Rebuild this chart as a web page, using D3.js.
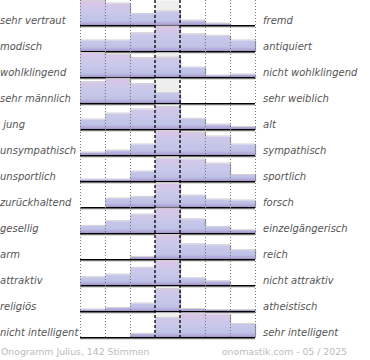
<!DOCTYPE html>
<html><head><meta charset="utf-8">
<script src="https://cdn.jsdelivr.net/npm/d3@7"></script>
<style>html,body{margin:0;padding:0;background:#fff;}svg{display:block;}</style>
</head><body>
<script>
const leftLabels = ["sehr vertraut","modisch","wohlklingend","sehr männlich"," jung","unsympathisch","unsportlich","zurückhaltend","gesellig","arm","attraktiv","religiös","nicht intelligent"];
const rightLabels = ["fremd","antiquiert","nicht wohlklingend","sehr weiblich","alt","sympathisch","sportlich","forsch","einzelgängerisch","reich","nicht attraktiv","atheistisch","sehr intelligent"];
const steps = [1,2,3,4,5,6,7];
const values = [
  [24.5,22,11.5,14,5,2,0],
  [11,11,18.3,25,17.3,15.7,11],
  [24.4,22.7,19.4,20,10,2,3],
  [21.4,24.7,19.4,10.4,0,0,0],
  [10,16,20,22.5,10.7,5,2.5],
  [3,5,11,24.5,22.5,19,11],
  [2,2,10,23,22,18,6.5],
  [0,9,10.6,24,12,8,7],
  [7.6,12.3,19,25,14.3,6.6,3.3],
  [0,0,2.6,24.3,15.3,14.3,9.3],
  [8.3,11,17.7,24.3,7.3,4.3,0],
  [2,3.5,8,22.5,2.5,1.5,1.5],
  [0,0,3.6,19.6,24,23,13.6]
];
const footerLeft = "Onogramm Julius, 142 Stimmen";
const footerRight = "onomastik.com - 05 / 2025";

const W = 370, H = 360;
const svg = d3.select("body").append("svg").attr("width", W).attr("height", H);
const rowH = 25.5;
const x = d3.scaleBand().domain(steps).range([80, 255]).padding(0);
const yRow = d3.scaleBand().domain(d3.range(leftLabels.length)).range([0, 338]).padding(0);
const h = d3.scaleLinear().domain([0, 25]).range([0, 25]);

const defs = svg.append("defs");
const grad = defs.append("linearGradient").attr("id","barGrad")
  .attr("gradientUnits","userSpaceOnUse").attr("x1",0).attr("x2",0).attr("y1",0).attr("y2",rowH);
[[0,"#ddc5e6"],[0.45,"#c9c9ea"],[0.82,"#bfc2e7"],[0.92,"#b1a8d8"],[1,"#9d90c4"]].forEach(s=>
  grad.append("stop").attr("offset",s[0]).attr("stop-color",s[1]));

const rows = svg.append("g").selectAll("g").data(values).join("g")
  .attr("transform",(d,i)=>`translate(0,${yRow(i)})`);
rows.append("rect").attr("x",x(4)).attr("width",x.bandwidth()).attr("y",0.5).attr("height",rowH-0.5).attr("fill","#eeeeee");

const grid = svg.append("g");
[1,2,3,6,7].forEach(s=>{
  grid.append("line").attr("x1",x(s)+0.5).attr("x2",x(s)+0.5).attr("y1",0).attr("y2",338)
    .attr("stroke","#777").attr("stroke-width",1).attr("stroke-dasharray","1,2");
});
grid.append("line").attr("x1",255.5).attr("x2",255.5).attr("y1",0).attr("y2",338)
  .attr("stroke","#777").attr("stroke-width",1).attr("stroke-dasharray","1,2");

rows.each(function(vals){
  const g = d3.select(this);
  const bars = g.selectAll("g.bar").data(vals.map((v,j)=>({v, s:steps[j]}))).join("g").attr("class","bar");
  const nz = bars.filter(d=>d.v>0);
  nz.append("rect")
    .attr("x",d=>x(d.s)).attr("width",x.bandwidth())
    .attr("y",d=>rowH-h(d.v)-1).attr("height",1)
    .attr("fill","#d2d2d2");
  nz.append("rect")
    .attr("x",d=>x(d.s)).attr("width",x.bandwidth())
    .attr("y",d=>rowH-h(d.v)).attr("height",d=>h(d.v))
    .attr("fill","url(#barGrad)");
  nz.append("line")
    .attr("x1",d=>x(d.s)+x.bandwidth()+0.5).attr("x2",d=>x(d.s)+x.bandwidth()+0.5)
    .attr("y1",d=>rowH-h(d.v)).attr("y2",rowH)
    .attr("stroke","#9a9a9a").attr("stroke-width",1.2);
  g.append("line").attr("x1",80).attr("x2",255).attr("y1",rowH+1.5).attr("y2",rowH+1.5)
    .attr("stroke","#bbb").attr("stroke-width",1);
  g.append("line").attr("x1",80).attr("x2",255).attr("y1",rowH+0.3).attr("y2",rowH+0.3)
    .attr("stroke","#000").attr("stroke-width",1.6);
});

[4,5].forEach(s=>{
  svg.append("line").attr("x1",x(s)).attr("x2",x(s)).attr("y1",0).attr("y2",338)
    .attr("stroke","#000").attr("stroke-width",1.3).attr("stroke-dasharray","3,2");
});

const lab = svg.append("g").attr("font-family","DejaVu Sans").attr("font-size",10)
  .attr("font-style","italic").attr("fill","#555");
lab.selectAll("text.l").data(leftLabels).join("text").attr("class","l")
  .attr("x",0).attr("y",(d,i)=>yRow(i)+rowH-1.3).style("white-space","pre").text(d=>d);
lab.selectAll("text.r").data(rightLabels).join("text").attr("class","r")
  .attr("x",263).attr("y",(d,i)=>yRow(i)+rowH-1.3).text(d=>d);

const ft = svg.append("g").attr("font-family","DejaVu Sans").attr("font-size",9.3).attr("fill","#bbb");
ft.append("text").attr("x",1).attr("y",355).text(footerLeft);
ft.append("text").attr("x",347).attr("y",355).attr("text-anchor","end").text(footerRight);
</script>
</body></html>
